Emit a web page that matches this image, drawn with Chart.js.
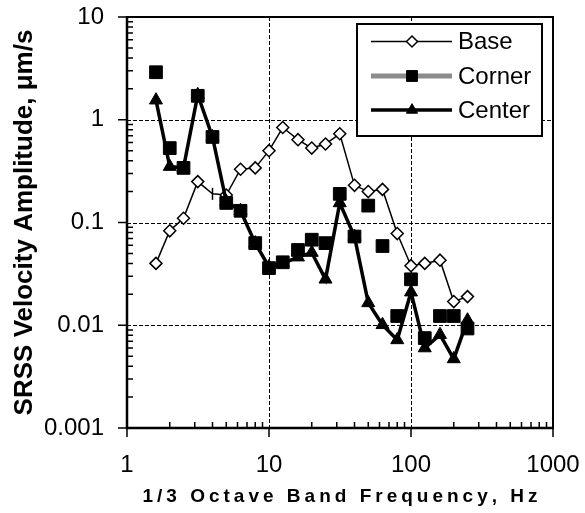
<!DOCTYPE html>
<html>
<head>
<meta charset="utf-8">
<script src="https://cdn.jsdelivr.net/npm/chart.js@4.4.1/dist/chart.umd.min.js"></script>
<style>
  body { margin: 0; background: #fff; }
</style>
</head>
<body>
<canvas id="octaveChart" width="585" height="513"></canvas>
<script>
// 1/3 octave band centre frequencies, Hz
const freqs = [1.6, 2, 2.5, 3.15, 4, 5, 6.3, 8, 10, 12.5, 16, 20, 25, 31.5, 40, 50, 63, 80, 100, 125, 160, 200, 250];

// SRSS velocity amplitude, um/s
const base = [0.04, 0.083, 0.11, 0.25, 0.19, 0.185, 0.33, 0.34, 0.5, 0.84, 0.64, 0.53, 0.58, 0.73, 0.23, 0.2, 0.21, 0.078, 0.038, 0.04, 0.043, 0.017, 0.019];
const corner = [2.9, 0.53, 0.34, 1.71, 0.68, 0.155, 0.13, 0.063, 0.036, 0.041, 0.054, 0.068, 0.063, 0.19, 0.073, 0.146, 0.059, 0.0123, 0.028, 0.0075, 0.0123, 0.0123, 0.0093];
const center = [1.55, 0.35, 0.34, 1.75, 0.68, 0.16, 0.13, 0.063, 0.037, 0.04, 0.046, 0.051, 0.028, 0.155, 0.073, 0.0165, 0.0101, 0.0072, 0.021, 0.006, 0.0081, 0.0047, 0.0112];

const seriesNames = ["Base", "Corner", "Center"];

// tick labels, one per decade
const xTickLabels = ["1", "10", "100", "1000"];
const yTickLabels = ["0.001", "0.01", "0.1", "1", "10"];

const xTitle = "1/3 Octave Band Frequency, Hz";
const yTitle = "SRSS Velocity Amplitude, \u03BCm/s";

const FONT = '"Liberation Sans", Arial, sans-serif';

function toPoints(values) {
  return values.map((v, i) => ({ x: freqs[i], y: v }));
}

// decade check for the log axes
function decadeIndex(v) {
  const e = Math.log10(v);
  const r = Math.round(e);
  return Math.abs(e - r) < 1e-9 ? r : null;
}

const styles = [
  { line: "#000", lineWidth: 1.5, pointStyle: "rectRot", radius: 6, fill: "#fff", pointBorder: 1.5 },
  { line: "#8c8c8c", lineWidth: 5, pointStyle: "rect", radius: 9, fill: "#000", pointBorder: 1 },
  { line: "#000", lineWidth: 3.5, pointStyle: "triangle", radius: 7.5, fill: "#000", pointBorder: 1 },
];

// grid, axis frame, tick marks, titles and legend
const frame = {
  id: "frame",
  beforeDatasetsDraw(chart) {
    const { ctx, chartArea: a, scales: { x, y } } = chart;
    ctx.save();
    ctx.strokeStyle = "#000";
    ctx.lineWidth = 1;
    ctx.setLineDash([4, 2]);
    ctx.beginPath();
    for (let e = 1; e < 3; e++) {
      const px = Math.round(x.getPixelForValue(Math.pow(10, e))) + 0.5;
      ctx.moveTo(px, a.top);
      ctx.lineTo(px, a.bottom);
    }
    for (let e = -2; e < 1; e++) {
      const py = Math.round(y.getPixelForValue(Math.pow(10, e))) + 0.5;
      ctx.moveTo(a.left, py);
      ctx.lineTo(a.right, py);
    }
    ctx.stroke();
    ctx.restore();
  },
  afterDatasetsDraw(chart) {
    const { ctx, chartArea: a, scales: { x, y } } = chart;
    ctx.save();
    ctx.strokeStyle = "#000";

    // top and right border
    ctx.lineWidth = 2;
    ctx.beginPath();
    ctx.moveTo(a.left, a.top);
    ctx.lineTo(a.right, a.top);
    ctx.lineTo(a.right, a.bottom);
    ctx.stroke();

    // axis lines
    ctx.lineWidth = 2.5;
    ctx.beginPath();
    ctx.moveTo(a.left, a.top - 1);
    ctx.lineTo(a.left, a.bottom);
    ctx.lineTo(a.right + 1, a.bottom);
    ctx.stroke();

    // tick marks
    ctx.lineWidth = 1.5;
    ctx.beginPath();
    for (let e = 0; e <= 3; e++) {
      const d = Math.pow(10, e);
      const px = x.getPixelForValue(d);
      ctx.moveTo(px, a.bottom);
      ctx.lineTo(px, a.bottom + 9);
      if (e === 3) break;
      for (let m = 2; m <= 9; m++) {
        const mx = x.getPixelForValue(m * d);
        ctx.moveTo(mx, a.bottom);
        ctx.lineTo(mx, a.bottom - 6);
      }
    }
    for (let e = -3; e <= 1; e++) {
      const d = Math.pow(10, e);
      const py = y.getPixelForValue(d);
      ctx.moveTo(a.left - 9, py);
      ctx.lineTo(a.left, py);
      if (e === 1) break;
      for (let m = 2; m <= 9; m++) {
        const my = y.getPixelForValue(m * d);
        ctx.moveTo(a.left, my);
        ctx.lineTo(a.left + 6, my);
      }
    }
    ctx.stroke();

    // axis titles
    ctx.fillStyle = "#000";
    ctx.font = "bold 26px " + FONT;
    ctx.textAlign = "center";
    ctx.textBaseline = "alphabetic";
    ctx.save();
    ctx.translate(32, (a.top + a.bottom) / 2);
    ctx.rotate(-Math.PI / 2);
    ctx.fillText(yTitle, 0, 0);
    ctx.restore();

    // x title is letter-spaced, so draw it one character at a time
    ctx.font = "bold 19px " + FONT;
    ctx.textAlign = "left";
    const spacing = 4;
    const widths = [...xTitle].map((c) => ctx.measureText(c).width);
    const total = widths.reduce((s, w) => s + w, 0) + spacing * (widths.length - 1);
    let cx = (a.left + a.right) / 2 - total / 2;
    [...xTitle].forEach((c, i) => {
      ctx.fillText(c, cx, 502);
      cx += widths[i] + spacing;
    });

    // legend box
    const box = { left: 357, top: 24, right: 542, bottom: 136 };
    ctx.fillStyle = "#fff";
    ctx.fillRect(box.left, box.top, box.right - box.left, box.bottom - box.top);
    ctx.lineWidth = 2;
    ctx.strokeRect(box.left, box.top, box.right - box.left, box.bottom - box.top);

    const rows = [41.5, 76, 110];
    ctx.font = "24px " + FONT;
    ctx.textBaseline = "alphabetic";
    seriesNames.forEach((name, i) => {
      const s = styles[i];
      const ly = rows[i];
      ctx.strokeStyle = s.line;
      ctx.lineWidth = s.lineWidth;
      ctx.beginPath();
      ctx.moveTo(371, ly);
      ctx.lineTo(452, ly);
      ctx.stroke();

      ctx.fillStyle = s.fill;
      ctx.strokeStyle = "#000";
      ctx.lineWidth = s.pointBorder;
      Chart.helpers.drawPoint(ctx, {
        pointStyle: s.pointStyle,
        radius: i === 0 ? 5.5 : s.radius * 0.85,
        rotation: 0,
        borderWidth: s.pointBorder,
      }, 412, ly);

      ctx.fillStyle = "#000";
      ctx.fillText(name, 458, ly + 7.5);
    });

    ctx.restore();
  },
};

const ctx = document.querySelector("#octaveChart");

new Chart(ctx, {
  type: "line",
  data: {
    datasets: [
      {
        label: seriesNames[0],
        data: toPoints(base),
        borderColor: styles[0].line,
        borderWidth: styles[0].lineWidth,
        // the 4 Hz reading is plotted as a short vertical bar
        pointStyle: (c) => (c.dataIndex === 4 ? "line" : styles[0].pointStyle),
        rotation: (c) => (c.dataIndex === 4 ? 90 : 0),
        pointRadius: styles[0].radius,
        pointBackgroundColor: styles[0].fill,
        pointBorderColor: "#000",
        pointBorderWidth: styles[0].pointBorder,
        order: 3,
      },
      {
        label: seriesNames[1],
        data: toPoints(corner),
        showLine: false,
        borderColor: styles[1].line,
        pointStyle: styles[1].pointStyle,
        pointRadius: styles[1].radius,
        pointBackgroundColor: styles[1].fill,
        pointBorderColor: "#000",
        pointBorderWidth: styles[1].pointBorder,
        order: 1,
      },
      {
        label: seriesNames[2],
        data: toPoints(center),
        borderColor: styles[2].line,
        borderWidth: styles[2].lineWidth,
        pointStyle: styles[2].pointStyle,
        pointRadius: styles[2].radius,
        pointBackgroundColor: styles[2].fill,
        pointBorderColor: "#000",
        pointBorderWidth: styles[2].pointBorder,
        order: 2,
      },
    ],
  },
  options: {
    responsive: false,
    animation: false,
    layout: { padding: { top: 17, right: 32, left: 0, bottom: 0 } },
    plugins: {
      legend: { display: false },
      tooltip: { enabled: false },
    },
    scales: {
      x: {
        type: "logarithmic",
        min: 1,
        max: 1000,
        grid: { display: false, drawTicks: false },
        border: { display: false },
        ticks: {
          autoSkip: false,
          maxRotation: 0,
          padding: 23,
          color: "#000",
          font: { family: FONT, size: 24 },
          callback: (v) => {
            const r = decadeIndex(v);
            return r === null ? "" : xTickLabels[r];
          },
        },
        // fixed box; the outer layout padding leaves room for the end labels
        afterFit: (scale) => {
          scale.height = 85;
          scale.paddingLeft = 0;
          scale.paddingRight = 0;
        },
      },
      y: {
        type: "logarithmic",
        min: 0.001,
        max: 10,
        grid: { display: false, drawTicks: false },
        border: { display: false },
        ticks: {
          autoSkip: false,
          padding: 23,
          color: "#000",
          font: { family: FONT, size: 24 },
          callback: (v) => {
            const r = decadeIndex(v);
            return r === null ? "" : yTickLabels[r + 3];
          },
        },
        afterFit: (scale) => {
          scale.width = 127;
          scale.paddingTop = 0;
          scale.paddingBottom = 0;
        },
      },
    },
  },
  plugins: [frame],
});
</script>
</body>
</html>
